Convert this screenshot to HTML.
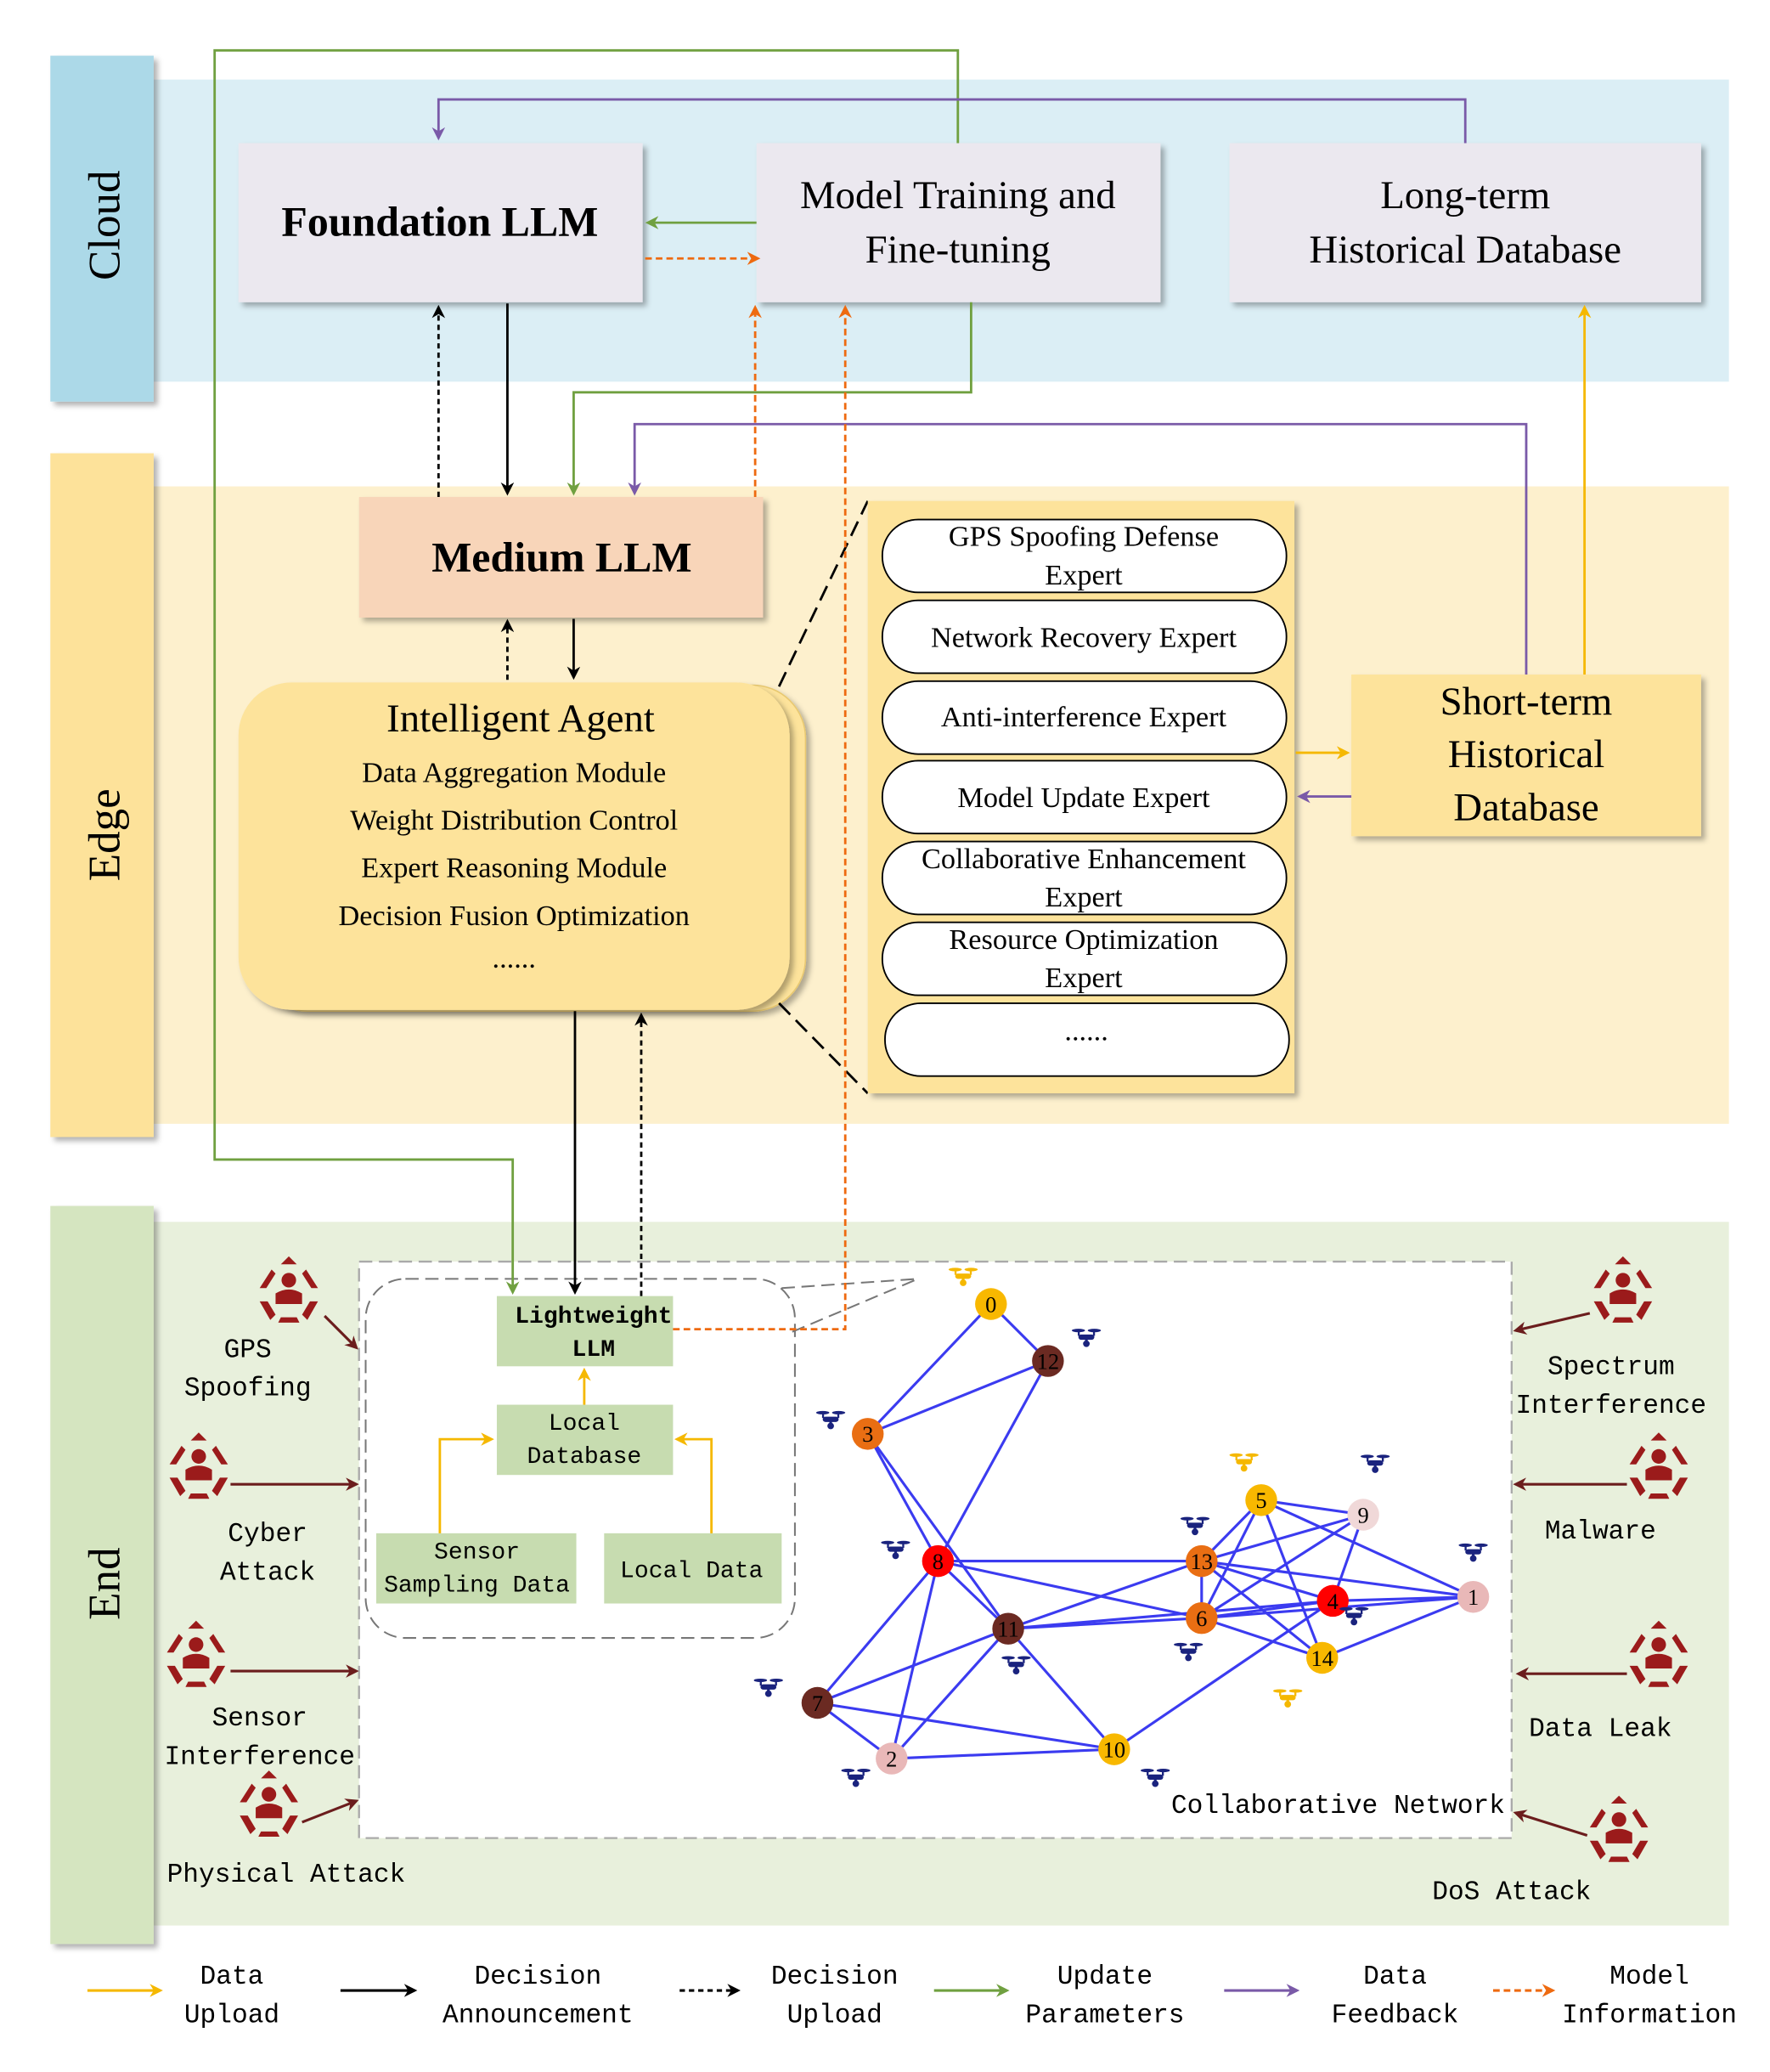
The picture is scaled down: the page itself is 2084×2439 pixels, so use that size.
<!DOCTYPE html>
<html><head><meta charset="utf-8"><style>
html,body{margin:0;padding:0;background:#fff}
svg{display:block}
text{font-family:"Liberation Serif",serif;fill:#000}
.m{font-family:"Liberation Mono",monospace}
</style></head><body>
<svg width="2084" height="2439" viewBox="0 0 1336 1563.5" xmlns="http://www.w3.org/2000/svg">
<defs>
<marker id="ab" markerWidth="10" markerHeight="10" refX="8" refY="5" orient="auto" markerUnits="userSpaceOnUse"><path d="M0,0 L10,5 L0,10 L3,5z" fill="#000"/></marker>
<marker id="ag" markerWidth="10" markerHeight="10" refX="8" refY="5" orient="auto" markerUnits="userSpaceOnUse"><path d="M0,0 L10,5 L0,10 L3,5z" fill="#70a040"/></marker>
<marker id="ap" markerWidth="10" markerHeight="10" refX="8" refY="5" orient="auto" markerUnits="userSpaceOnUse"><path d="M0,0 L10,5 L0,10 L3,5z" fill="#7a5aa8"/></marker>
<marker id="ay" markerWidth="10" markerHeight="10" refX="8" refY="5" orient="auto" markerUnits="userSpaceOnUse"><path d="M0,0 L10,5 L0,10 L3,5z" fill="#f5b800"/></marker>
<marker id="ao" markerWidth="10" markerHeight="10" refX="8" refY="5" orient="auto" markerUnits="userSpaceOnUse"><path d="M0,0 L10,5 L0,10 L3,5z" fill="#ee6a10"/></marker>
<marker id="ar" markerWidth="10" markerHeight="10" refX="8" refY="5" orient="auto" markerUnits="userSpaceOnUse"><path d="M0,0 L10,5 L0,10 L3,5z" fill="#6b1d1d"/></marker>
<filter id="sh" x="-10%" y="-10%" width="130%" height="130%"><feDropShadow dx="3" dy="3" stdDeviation="2" flood-color="#000" flood-opacity="0.3"/></filter>
<g id="dr"><ellipse cx="-6" cy="-4" rx="5" ry="1.3"/><ellipse cx="6" cy="-4" rx="5" ry="1.3"/><rect x="-6.5" y="-4" width="1.5" height="4"/><rect x="5" y="-4" width="1.5" height="4"/><rect x="-6" y="-1" width="12" height="4" rx="2"/><circle cx="0" cy="6" r="2.5"/><rect x="-1" y="2" width="2" height="3"/></g>
<g id="th" fill="#9b1b1b"><circle cx="0" cy="-14" r="5.5"/><path d="M-10,-4 Q0,-10 10,-4 L10,4 L-10,4z"/><path d="M-13,-22 L-22,-8 L-17,-8 L-10,-19z"/><path d="M13,-22 L22,-8 L17,-8 L10,-19z"/><path d="M-22,2 L-14,16 L-10,12 L-16,2z"/><path d="M22,2 L14,16 L10,12 L16,2z"/><path d="M-8,18 L8,18 L6,14 L-6,14z"/><path d="M-6,-26 L6,-26 L0,-32z"/></g>
</defs>
<!-- bands -->
<rect x="116" y="60" width="1189" height="228" fill="#dbeef5"/>
<rect x="116" y="367" width="1189" height="481" fill="#fdf0cd"/>
<rect x="116" y="922" width="1189" height="531" fill="#e8f0dc"/>
<rect x="38" y="42" width="78" height="261" fill="#acd9e8" filter="url(#sh)"/>
<rect x="38" y="342" width="78" height="516" fill="#fde29a" filter="url(#sh)"/>
<rect x="38" y="910" width="78" height="557" fill="#d5e5c0" filter="url(#sh)"/>
<text transform="translate(90,170) rotate(-90)" font-size="34" text-anchor="middle">Cloud</text>
<text transform="translate(90,630) rotate(-90)" font-size="34" text-anchor="middle">Edge</text>
<text transform="translate(90,1195) rotate(-90)" font-size="34" text-anchor="middle">End</text>
<!-- cloud boxes -->
<rect x="180" y="108" width="305" height="120" fill="#ebe8ef" filter="url(#sh)"/>
<text x="332" y="178" font-size="32" font-weight="bold" text-anchor="middle">Foundation LLM</text>
<rect x="571" y="108" width="305" height="120" fill="#ebe8ef" filter="url(#sh)"/>
<text x="723" y="157" font-size="30" text-anchor="middle">Model Training and</text>
<text x="723" y="198" font-size="30" text-anchor="middle">Fine-tuning</text>
<rect x="928" y="108" width="356" height="120" fill="#ebe8ef" filter="url(#sh)"/>
<text x="1106" y="157" font-size="30" text-anchor="middle">Long-term</text>
<text x="1106" y="198" font-size="30" text-anchor="middle">Historical Database</text>
<!-- edge -->
<rect x="271" y="375" width="305" height="91" fill="#f8d5b9" filter="url(#sh)"/>
<text x="424" y="431" font-size="32" font-weight="bold" text-anchor="middle">Medium LLM</text>
<rect x="192" y="517" width="416" height="246" rx="40" fill="#fde39b" stroke="#e8c870" filter="url(#sh)"/>
<rect x="180" y="515" width="416" height="247" rx="40" fill="#fde39b" filter="url(#sh)"/>
<text x="393" y="552" font-size="30" text-anchor="middle">Intelligent Agent</text>
<text x="388" y="590" font-size="22" text-anchor="middle">Data Aggregation Module</text>
<text x="388" y="626" font-size="22" text-anchor="middle">Weight Distribution Control</text>
<text x="388" y="662" font-size="22" text-anchor="middle">Expert Reasoning Module</text>
<text x="388" y="698" font-size="22" text-anchor="middle">Decision Fusion Optimization</text>
<text x="388" y="730" font-size="22" text-anchor="middle">......</text>
<line x1="588" y1="518" x2="655" y2="378" stroke="#000" stroke-width="1.8" stroke-dasharray="12,6"/>
<line x1="588" y1="757" x2="655" y2="825" stroke="#000" stroke-width="1.8" stroke-dasharray="12,6"/>
<rect x="655" y="378" width="322" height="447" fill="#fde39b" filter="url(#sh)"/>
<g fill="#fff" stroke="#000" stroke-width="1.2">
<rect x="666" y="392" width="305" height="55" rx="27"/>
<rect x="666" y="453" width="305" height="55" rx="27"/>
<rect x="666" y="514" width="305" height="55" rx="27"/>
<rect x="666" y="574" width="305" height="55" rx="27"/>
<rect x="666" y="635" width="305" height="55" rx="27"/>
<rect x="666" y="696" width="305" height="55" rx="27"/>
<rect x="668" y="757" width="305" height="55" rx="27"/>
</g>
<g font-size="22" text-anchor="middle">
<text x="818" y="412">GPS Spoofing Defense</text><text x="818" y="441">Expert</text>
<text x="818" y="488">Network Recovery Expert</text>
<text x="818" y="548">Anti-interference Expert</text>
<text x="818" y="609">Model Update Expert</text>
<text x="818" y="655">Collaborative Enhancement</text><text x="818" y="684">Expert</text>
<text x="818" y="716">Resource Optimization</text><text x="818" y="745">Expert</text>
<text x="820" y="785">......</text>
</g>
<rect x="1020" y="509" width="264" height="122" fill="#fde39b" filter="url(#sh)"/>
<g font-size="30" text-anchor="middle"><text x="1152" y="539">Short-term</text><text x="1152" y="579">Historical</text><text x="1152" y="619">Database</text></g>
<!-- end area -->
<rect x="271" y="952" width="870" height="435" fill="#fff" stroke="#aaa" stroke-width="1.5" stroke-dasharray="10,5"/>
<rect x="276" y="965" width="324" height="271" rx="30" fill="none" stroke="#777" stroke-width="1.3" stroke-dasharray="10,5"/>
<line x1="590" y1="972" x2="693" y2="965" stroke="#777" stroke-width="1.3" stroke-dasharray="10,5"/>
<line x1="598" y1="1005" x2="693" y2="965" stroke="#777" stroke-width="1.3" stroke-dasharray="10,5"/>
<g fill="#c7dcb0">
<rect x="375" y="978" width="133" height="53"/><rect x="375" y="1060" width="133" height="53"/>
<rect x="284" y="1157" width="151" height="53"/><rect x="456" y="1157" width="134" height="53"/>
</g>
<g class="m" font-size="18" text-anchor="middle">
<text x="448" y="998" class="m" font-weight="bold">Lightweight</text><text x="448" y="1023" class="m" font-weight="bold">LLM</text>
<text x="441" y="1079" class="m">Local</text><text x="441" y="1104" class="m">Database</text>
<text x="360" y="1176" class="m">Sensor</text><text x="360" y="1201" class="m">Sampling Data</text>
<text x="522" y="1190" class="m">Local Data</text>
</g>
<!-- network -->
<g stroke="#3b3bf0" stroke-width="2">
<line x1="748" y1="984" x2="655" y2="1082"/><line x1="748" y1="984" x2="791" y2="1027"/><line x1="655" y1="1082" x2="791" y2="1027"/>
<line x1="655" y1="1082" x2="708" y2="1178"/><line x1="655" y1="1082" x2="761" y2="1229"/><line x1="791" y1="1027" x2="708" y2="1178"/>
<line x1="708" y1="1178" x2="761" y2="1229"/><line x1="708" y1="1178" x2="617" y2="1285"/><line x1="708" y1="1178" x2="673" y2="1327"/>
<line x1="708" y1="1178" x2="907" y2="1178"/><line x1="708" y1="1178" x2="907" y2="1221"/>
<line x1="761" y1="1229" x2="617" y2="1285"/><line x1="761" y1="1229" x2="673" y2="1327"/><line x1="761" y1="1229" x2="841" y2="1320"/>
<line x1="761" y1="1229" x2="907" y2="1178"/><line x1="761" y1="1229" x2="907" y2="1221"/><line x1="761" y1="1229" x2="1006" y2="1208"/>
<line x1="617" y1="1285" x2="673" y2="1327"/><line x1="617" y1="1285" x2="841" y2="1320"/><line x1="673" y1="1327" x2="841" y2="1320"/>
<line x1="907" y1="1178" x2="952" y2="1132"/><line x1="907" y1="1178" x2="1029" y2="1143"/><line x1="907" y1="1178" x2="1006" y2="1208"/>
<line x1="907" y1="1178" x2="998" y2="1251"/><line x1="907" y1="1178" x2="1112" y2="1205"/><line x1="907" y1="1221" x2="952" y2="1132"/>
<line x1="907" y1="1221" x2="1029" y2="1143"/><line x1="907" y1="1221" x2="1006" y2="1208"/><line x1="907" y1="1221" x2="998" y2="1251"/>
<line x1="907" y1="1221" x2="1112" y2="1205"/><line x1="952" y1="1132" x2="1029" y2="1143"/><line x1="952" y1="1132" x2="998" y2="1251"/>
<line x1="952" y1="1132" x2="1112" y2="1205"/><line x1="1029" y1="1143" x2="1006" y2="1208"/><line x1="1006" y1="1208" x2="1112" y2="1205"/>
<line x1="998" y1="1251" x2="1112" y2="1205"/><line x1="841" y1="1320" x2="1006" y2="1208"/><line x1="907" y1="1178" x2="907" y2="1221"/>
</g>
<g font-size="17" text-anchor="middle">
<circle cx="748" cy="984" r="12" fill="#f8b800"/><text x="748" y="990">0</text>
<circle cx="791" cy="1027" r="12" fill="#6b2a22"/><text x="791" y="1033" fill="#fff">12</text>
<circle cx="655" cy="1082" r="12" fill="#e96e13"/><text x="655" y="1088">3</text>
<circle cx="708" cy="1178" r="12" fill="#f00"/><text x="708" y="1184">8</text>
<circle cx="761" cy="1229" r="12" fill="#6b2a22"/><text x="761" y="1235" fill="#fff">11</text>
<circle cx="617" cy="1285" r="12" fill="#6b2a22"/><text x="617" y="1291" fill="#fff">7</text>
<circle cx="673" cy="1327" r="12" fill="#e9b8b8"/><text x="673" y="1333">2</text>
<circle cx="841" cy="1320" r="12" fill="#f8b800"/><text x="841" y="1326">10</text>
<circle cx="907" cy="1178" r="12" fill="#e96e13"/><text x="907" y="1184">13</text>
<circle cx="907" cy="1221" r="12" fill="#e96e13"/><text x="907" y="1227">6</text>
<circle cx="952" cy="1132" r="12" fill="#f8b800"/><text x="952" y="1138">5</text>
<circle cx="1029" cy="1143" r="12" fill="#f0d8d8"/><text x="1029" y="1149">9</text>
<circle cx="1006" cy="1208" r="12" fill="#f00"/><text x="1006" y="1214">4</text>
<circle cx="998" cy="1251" r="12" fill="#f8b800"/><text x="998" y="1257">14</text>
<circle cx="1112" cy="1205" r="12" fill="#e9b8b8"/><text x="1112" y="1211">1</text>
</g>
<g fill="#1a237e">
<use href="#dr" x="820" y="1008"/><use href="#dr" x="627" y="1070"/><use href="#dr" x="676" y="1168"/><use href="#dr" x="767" y="1255"/>
<use href="#dr" x="580" y="1272"/><use href="#dr" x="646" y="1340"/><use href="#dr" x="872" y="1340"/><use href="#dr" x="902" y="1150"/>
<use href="#dr" x="897" y="1245"/><use href="#dr" x="1038" y="1103"/><use href="#dr" x="1112" y="1170"/><use href="#dr" x="1022" y="1218"/>
</g>
<g fill="#f5b800"><use href="#dr" x="727" y="962"/><use href="#dr" x="939" y="1102"/><use href="#dr" x="972" y="1280"/></g>
<text x="1010" y="1368" font-size="20" class="m" text-anchor="middle">Collaborative Network</text>
<!-- threats -->
<use href="#th" x="218" y="980"/><use href="#th" x="150" y="1113"/><use href="#th" x="148" y="1255"/><use href="#th" x="203" y="1368"/>
<use href="#th" x="1225" y="980"/><use href="#th" x="1252" y="1113"/><use href="#th" x="1252" y="1255"/><use href="#th" x="1222" y="1387"/>
<g font-size="20" class="m" text-anchor="middle">
<text x="187" y="1024" class="m">GPS</text><text x="187" y="1053" class="m">Spoofing</text>
<text x="202" y="1163" class="m">Cyber</text><text x="202" y="1192" class="m">Attack</text>
<text x="196" y="1302" class="m">Sensor</text><text x="196" y="1331" class="m">Interference</text>
<text x="216" y="1420" class="m">Physical Attack</text>
<text x="1216" y="1037" class="m">Spectrum</text><text x="1216" y="1066" class="m">Interference</text>
<text x="1208" y="1161" class="m">Malware</text>
<text x="1208" y="1310" class="m">Data Leak</text>
<text x="1141" y="1433" class="m">DoS Attack</text>
</g>
<g stroke="#6b1d1d" stroke-width="2" marker-end="url(#ar)">
<line x1="245" y1="993" x2="269" y2="1017"/><line x1="174" y1="1120" x2="269" y2="1120"/><line x1="174" y1="1261" x2="269" y2="1261"/><line x1="228" y1="1375" x2="269" y2="1359"/>
<line x1="1200" y1="991" x2="1144" y2="1004"/><line x1="1228" y1="1120" x2="1144" y2="1120"/><line x1="1228" y1="1263" x2="1146" y2="1263"/><line x1="1198" y1="1385" x2="1144" y2="1368"/>
</g>
<!-- connectors -->
<g fill="none" stroke-width="1.8">
<polyline points="723,108 723,38 162,38 162,875 387,875 387,975" stroke="#70a040" marker-end="url(#ag)"/>
<polyline points="571,168 489,168" stroke="#70a040" marker-end="url(#ag)"/>
<polyline points="733,228 733,296 433,296 433,372" stroke="#70a040" marker-end="url(#ag)"/>
<polyline points="1106,108 1106,75 331,75 331,104" stroke="#7a5aa8" marker-end="url(#ap)"/>
<polyline points="1152,509 1152,320 479,320 479,372" stroke="#7a5aa8" marker-end="url(#ap)"/>
<polyline points="1020,601 981,601" stroke="#7a5aa8" marker-end="url(#ap)"/>
<polyline points="1196,509 1196,232" stroke="#f5b800" marker-end="url(#ay)"/>
<polyline points="978,568 1017,568" stroke="#f5b800" marker-end="url(#ay)"/>
<polyline points="441,1060 441,1034" stroke="#f5b800" marker-end="url(#ay)"/>
<polyline points="332,1157 332,1086 371,1086" stroke="#f5b800" marker-end="url(#ay)"/>
<polyline points="537,1157 537,1086 511,1086" stroke="#f5b800" marker-end="url(#ay)"/>
<polyline points="487,195 572,195" stroke="#ee6a10" stroke-dasharray="5,3" marker-end="url(#ao)"/>
<polyline points="570,375 570,232" stroke="#ee6a10" stroke-dasharray="5,3" marker-end="url(#ao)"/>
<polyline points="508,1003 638,1003 638,232" stroke="#ee6a10" stroke-dasharray="5,3" marker-end="url(#ao)"/>
<polyline points="383,229 383,372" stroke="#000" marker-end="url(#ab)"/>
<polyline points="433,467 433,511" stroke="#000" marker-end="url(#ab)"/>
<polyline points="434,763 434,975" stroke="#000" marker-end="url(#ab)"/>
<polyline points="331,375 331,232" stroke="#000" stroke-dasharray="4,3" marker-end="url(#ab)"/>
<polyline points="383,513 383,469" stroke="#000" stroke-dasharray="4,3" marker-end="url(#ab)"/>
<polyline points="484,978 484,766" stroke="#000" stroke-dasharray="4,3" marker-end="url(#ab)"/>
</g>
<!-- legend -->
<g stroke-width="2" fill="none">
<line x1="66" y1="1502" x2="121" y2="1502" stroke="#f5b800" marker-end="url(#ay)"/>
<line x1="257" y1="1502" x2="313" y2="1502" stroke="#000" marker-end="url(#ab)"/>
<line x1="513" y1="1502" x2="557" y2="1502" stroke="#000" stroke-dasharray="4,3" marker-end="url(#ab)"/>
<line x1="705" y1="1502" x2="760" y2="1502" stroke="#70a040" marker-end="url(#ag)"/>
<line x1="924" y1="1502" x2="979" y2="1502" stroke="#7a5aa8" marker-end="url(#ap)"/>
<line x1="1127" y1="1502" x2="1172" y2="1502" stroke="#ee6a10" stroke-dasharray="5,3" marker-end="url(#ao)"/>
</g>
<g font-size="20" text-anchor="middle">
<text x="175" y="1497" class="m">Data</text><text x="175" y="1526" class="m">Upload</text>
<text x="406" y="1497" class="m">Decision</text><text x="406" y="1526" class="m">Announcement</text>
<text x="630" y="1497" class="m">Decision</text><text x="630" y="1526" class="m">Upload</text>
<text x="834" y="1497" class="m">Update</text><text x="834" y="1526" class="m">Parameters</text>
<text x="1053" y="1497" class="m">Data</text><text x="1053" y="1526" class="m">Feedback</text>
<text x="1245" y="1497" class="m">Model</text><text x="1245" y="1526" class="m">Information</text>
</g>
</svg>
</body></html>
